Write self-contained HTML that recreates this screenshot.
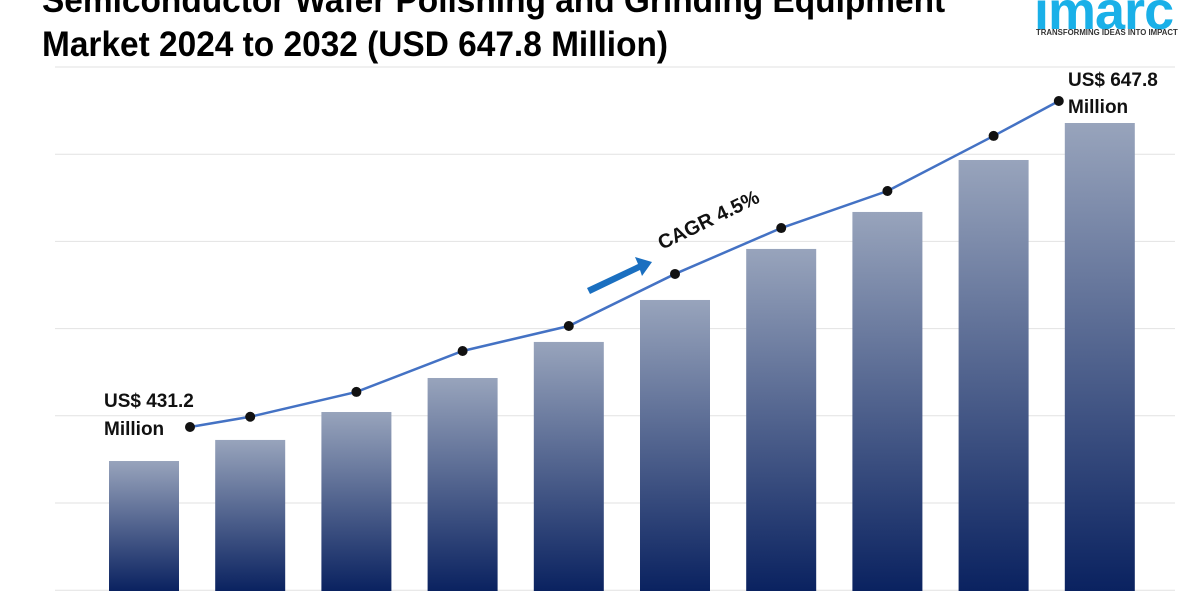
<!DOCTYPE html>
<html><head><meta charset="utf-8"><style>
body{margin:0;width:1200px;height:600px;overflow:hidden;background:#fff;font-family:"Liberation Sans",sans-serif}
.t{position:absolute;left:42px;font-weight:bold;font-size:35px;color:#000;transform:scaleX(0.955);transform-origin:left;white-space:nowrap;line-height:1}
</style></head><body>
<div class="t" style="top:-17px">Semiconductor Wafer Polishing and Grinding Equipment</div>
<div class="t" style="top:27px">Market 2024 to 2032 (USD 647.8 Million)</div>
<div style="position:absolute;left:1034px;top:-20px;font-size:54px;font-weight:bold;color:#1ab0e8;letter-spacing:-1px">imarc</div>
<div style="position:absolute;left:1036px;top:28px;font-size:7.8px;font-weight:bold;color:#333;white-space:nowrap">TRANSFORMING IDEAS INTO IMPACT</div>
<svg id="c" width="1200" height="600" style="position:absolute;left:0;top:0">
<defs><linearGradient id="g" x1="0" y1="0" x2="0" y2="1"><stop offset="0" stop-color="#98a4bc"/><stop offset="1" stop-color="#0a2260"/></linearGradient></defs>
</svg>
<script>
const years=["2024","2025","2026","2027","2028","2029","2030","2031","2032","2033"];
const barValues=[431.2,444.7,462.6,484.4,507.5,534.4,567.1,590.8,624.1,647.8];
const lineValues=[431.2,438.0,454.5,481.7,498.3,532.9,563.4,588.0,624.6,647.8];
const gridLines=[0,1,2,3,4,5,6];
const svg=document.getElementById('c');const NS='http://www.w3.org/2000/svg';
function mk(t,a){const e=document.createElementNS(NS,t);for(const k in a)e.setAttribute(k,a[k]);svg.appendChild(e);return e;}
const base=591;
const yBar=v=>base-(v-347.9)*1.5605;
const yLine=v=>427-(v-431.2)*1.505;
const xC=i=>144+i*106.2;
gridLines.forEach(i=>{const g=mk('line',{x1:55,x2:1175,y1:67+i*87.2,y2:67+i*87.2,stroke:'#e2e2e2','stroke-width':1});

});
barValues.forEach((v,i)=>{const r=mk('rect',{x:xC(i)-35,y:yBar(v),width:70,height:base-yBar(v),fill:'url(#g)'});

});
const lx=i=>xC(i)+(i===0?46:i===lineValues.length-1?-41:0);
const pts=lineValues.map((v,i)=>lx(i)+','+yLine(v)).join(' ');
const pl=mk('polyline',{points:pts,fill:'none',stroke:'#4472c4','stroke-width':2.5});


lineValues.forEach((v,i)=>{const c=mk('circle',{cx:lx(i),cy:yLine(v),r:5,fill:'#111'});

});
function txt(s,x,y,name,extra){const t=mk('text',Object.assign({x:x,y:y,'font-size':19,'font-weight':'bold','font-family':'Liberation Sans, sans-serif',fill:'#111'},extra||{}));t.textContent=s;

return t;}
txt('US$ 431.2',104,407,'start-value-label');
txt('Million',104,435,'start-value-unit');
txt('US$ 647.8',1068,86,'end-value-label');
txt('Million',1068,113,'end-value-unit');
txt('CAGR 4.5%',662,250,'cagr-label',{'font-size':20,transform:'rotate(-26 662 250)'});
const ar=mk('polygon',{points:'587,288 638,264 635,257 652,262 642,276 640,270 590,294',fill:'#1a6fc0'});


</script>
</body></html>
